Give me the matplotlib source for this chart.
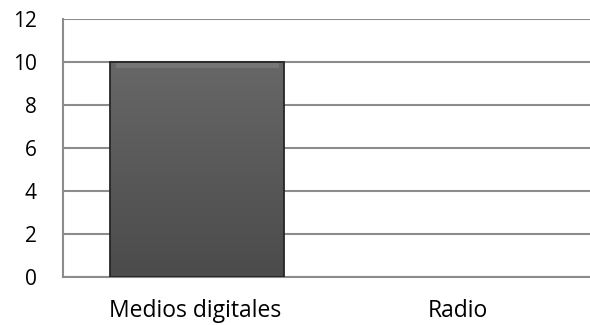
import matplotlib.pyplot as plt
from matplotlib.colors import LinearSegmentedColormap
import numpy as np

categories = ["Medios digitales", "Radio"]
values = [10, 0]
y_ticks = [0, 2, 4, 6, 8, 10, 12]

plt.rcParams["font.family"] = ["Open Sans", "DejaVu Sans"]

fig = plt.figure(figsize=(5.9, 3.25), dpi=100)
ax = fig.add_axes([0.1068, 0.1477, 0.8932, 0.7938])

x = np.arange(len(categories))
bars = ax.bar(x + 0.01, values, width=0.66, color="#5a5a5a",
              linewidth=0, zorder=3)

shade = LinearSegmentedColormap.from_list("shade", ["#4b4b4b", "#676767"])
grad = np.linspace(0, 1, 256).reshape(-1, 1)
for b in bars:
    h = b.get_height()
    if h <= 0:
        continue
    x0 = b.get_x()
    w = b.get_width()
    # vertical shading, lighter towards the top
    im = ax.imshow(grad, extent=[x0, x0 + w, 0, h], origin="lower",
                   cmap=shade, aspect="auto", zorder=3.5)
    im.set_clip_path(b)
    # bevel highlight along the top edge
    ax.fill_between([x0 + 0.02, x0 + w - 0.02], h - 0.3, h - 0.04,
                    color="#858585", alpha=0.55, zorder=3.6, linewidth=0)
    ax.bar(x0 + w / 2, h, width=w, fill=False, edgecolor="#262626",
           linewidth=1.3, zorder=4)

ax.set_xlim(-0.5, 1.5)
ax.set_ylim(0, 12)
ax.set_yticks(y_ticks)
ax.set_xticks(x)
ax.set_xticklabels(categories, fontsize=16.5)
ax.tick_params(axis="y", labelsize=15, length=0, pad=19)
ax.tick_params(axis="x", length=0, pad=16)

ax.grid(axis="y", color="#8c8c8c", linewidth=1.5, zorder=0)
ax.set_axisbelow(True)
for side in ["top", "right"]:
    ax.spines[side].set_visible(False)
for side in ["left", "bottom"]:
    ax.spines[side].set_color("#8c8c8c")
    ax.spines[side].set_linewidth(1.5)

fig.savefig("out.png", dpi=100)
